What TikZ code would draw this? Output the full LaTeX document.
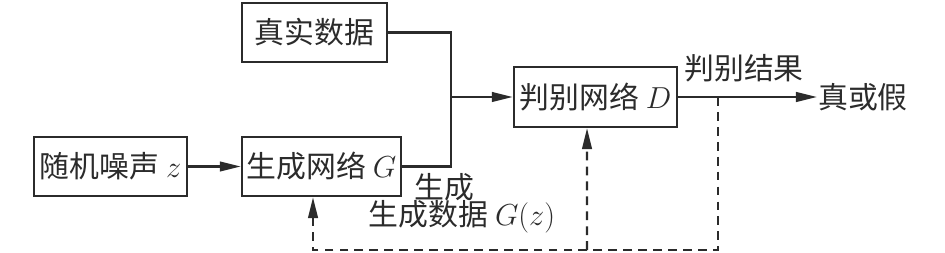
\documentclass[tikz,border=0pt]{standalone}
\usepackage{amsmath}
\usepackage{fontspec}
\newfontfamily\cjk{Noto Sans CJK SC}
\usepackage{tikz}
\usetikzlibrary{arrows.meta, positioning}
\usepackage{xcolor}
\definecolor{Ink}{HTML}{2B2B2B}

\begin{document}
\begin{tikzpicture}[x=0.02cm, y=-0.02cm, >={Triangle[length=12pt,width=5.5pt]},
    font=\cjk\fontsize{17}{20}\selectfont, line width=1.3pt, draw=Ink, text=Ink,
    block/.style={draw=Ink, line width=1.3pt, inner sep=0pt, minimum height=1.18cm},
    feed/.style={Ink, dash pattern=on 5pt off 3.5pt}]
  \useasboundingbox (0,0) rectangle (945,253);
  % Blocks
  \node[block, minimum width=2.9cm] (real) at (314.5,32.5) {真实数据};
  \node[block, minimum width=3.06cm] (noise) at (110.5,166.5) {随机噪声 $z$};
  \node[block, minimum width=3.18cm] (gen) at (321.5,166.5) {生成网络 $G$};
  \node[block, minimum width=3.26cm, minimum height=1.2cm] (disc) at (595.5,97) {判别网络 $D$};
  \node[anchor=west, inner sep=0pt] (out) at (817,97) {真或假};
  % Labels
  \node (res) at (744,68) {判别结果};
  \node (genlab) at (444,187) {生成};
  \node (fake) at (462,217) {生成数据 $G(z)$};
  % Forward path
  \coordinate (join) at (451,97);
  \draw[Ink, ->] (noise.east) -- (gen.west);
  \draw[Ink] (real.east) -| (join);
  \draw[Ink] (gen.east) -| (join);
  \draw[Ink, ->] (join) -- (disc.west);
  \draw[Ink, ->] (disc.east) -- (out.west);
  % Feedback
  \coordinate (tap) at (718,97);
  \coordinate (bot) at (718,250);
  \coordinate (fork) at (587,250);
  \draw[feed, ->] (tap) -- (bot) -| ([xshift=-0.17cm]gen.south);
  \draw[feed, ->] (fork) -- ([xshift=-0.17cm]disc.south);
\end{tikzpicture}
\end{document}
